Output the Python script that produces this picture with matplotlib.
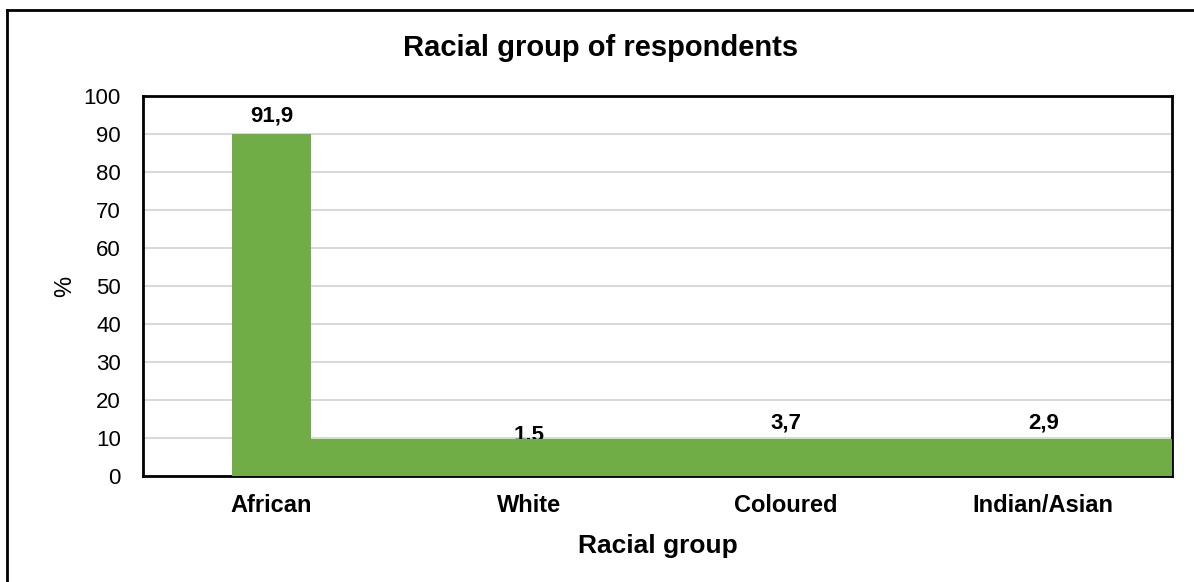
import matplotlib
matplotlib.use('Agg')
import matplotlib.pyplot as plt
from matplotlib.lines import Line2D

plt.rcParams['font.family'] = ['Liberation Sans', 'DejaVu Sans']

# 数据
categories = ['African', 'White', 'Coloured', 'Indian/Asian']
values = [91.9, 1.5, 3.7, 2.9]
value_labels = ['91,9', '1.5', '3,7', '2,9']
# heights as they appear in the picture (first bar clipped at 90, the rest merged into a band)
shown_first = 90
shown_band = 9.8
label_y = [93.3, 9.3, 12.5, 12.5]
yticks = list(range(0, 101, 10))

GREEN = '#70AD47'
BAR_W = 0.31

fig = plt.figure(figsize=(11.94, 5.82), dpi=100)
ax = fig.add_axes([143 / 1194, 1 - 476 / 582, (1172 - 143) / 1194, (476 - 96) / 582])

x = list(range(len(categories)))
ax.bar(x[0], shown_first, width=BAR_W, color=GREEN, zorder=3)
band_left = x[0] + BAR_W / 2
band_right = x[-1] + 0.5
ax.bar(band_left, shown_band, width=band_right - band_left, align='edge',
       color=GREEN, zorder=4)

for xi, lab, ly in zip(x, value_labels, label_y):
    ax.text(xi, ly, lab, ha='center', va='baseline', fontsize=16,
            fontweight='bold', zorder=3.5)

ax.set_xlim(-0.5, 3.5)
ax.set_ylim(0, 100)
ax.set_yticks(yticks)
ax.set_xticks(x)
ax.set_xticklabels(categories, fontsize=17, fontweight='bold')
ax.tick_params(axis='y', labelsize=16, length=0, pad=16)
ax.tick_params(axis='x', length=0, pad=13)
ax.grid(axis='y', color='#d9d9d9', linewidth=1.5, zorder=0)
ax.set_axisbelow(True)
for s in ax.spines.values():
    s.set_linewidth(2)
    s.set_color('black')

ax.set_xlabel('Racial group', fontsize=19, fontweight='bold', labelpad=12)
ax.set_ylabel('%', fontsize=17, labelpad=5)
fig.text(0.503, 1 - 48 / 582, 'Racial group of respondents', ha='center', va='center',
         fontsize=21, fontweight='bold')

# outer chart border (top and left visible)
fig.add_artist(Line2D([7 / 1194, 7 / 1194], [0, 1 - 10 / 582], color='black', linewidth=2,
                      transform=fig.transFigure))
fig.add_artist(Line2D([7 / 1194, 1], [1 - 10 / 582, 1 - 10 / 582], color='black', linewidth=2,
                      transform=fig.transFigure))

fig.savefig('out.png', dpi=100)
plt.close(fig)
